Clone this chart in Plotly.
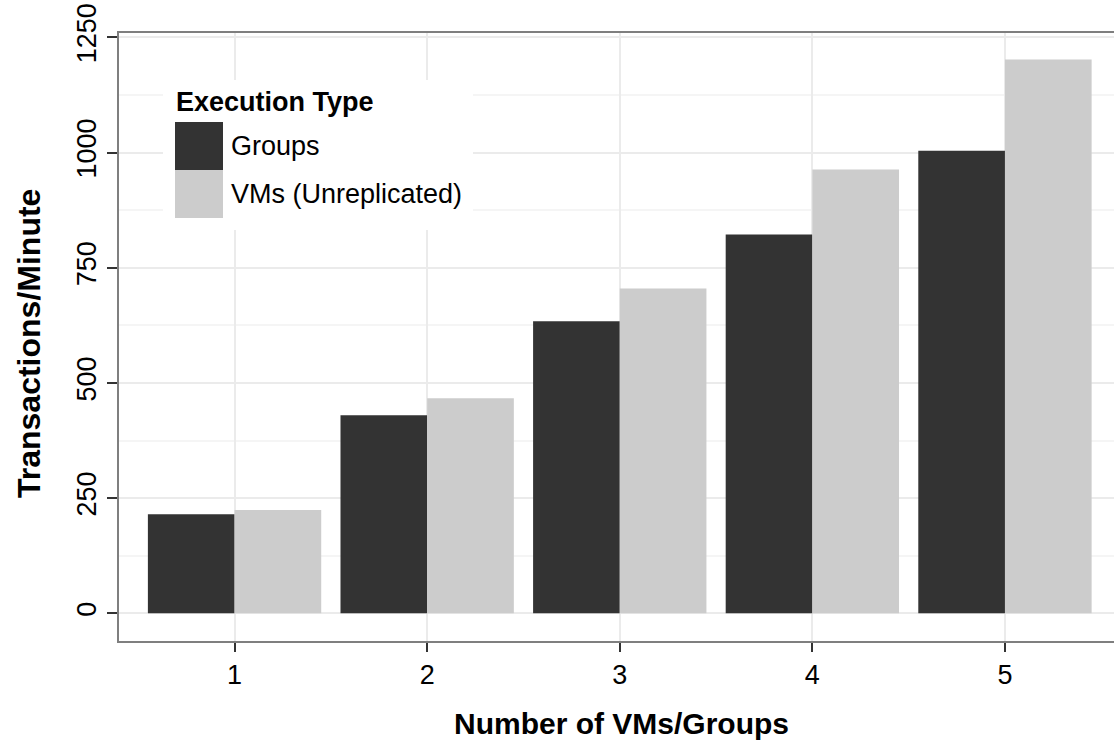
import plotly.graph_objects as go

# Throughput per configuration
vm_counts = [1, 2, 3, 4, 5]
groups_tpm = [215, 430, 634, 822, 1004]
vms_unreplicated_tpm = [224, 467, 705, 963, 1202]

series_names = ["Groups", "VMs (Unreplicated)"]
series_colors = ["#333333", "#cccccc"]
y_ticks = [0, 250, 500, 750, 1000, 1250]

W, H = 1114, 756
L, R, T, B = 119, 0, 33, 115
PW, PH = W - L - R, H - T - B
FONT = "Liberation Sans, Arial, sans-serif"


def px(x):
    return (x - L) / PW


def py(y):
    return (H - B - y) / PH


fig = go.Figure()
for name, vals, col in zip(series_names, [groups_tpm, vms_unreplicated_tpm], series_colors):
    fig.add_trace(go.Bar(x=vm_counts, y=vals, name=name,
                         marker=dict(color=col, line=dict(width=0)),
                         showlegend=False))

# legend panel drawn inside the plot area
shapes = [dict(type="rect", xref="paper", yref="paper", layer="above",
               x0=px(163), x1=px(473), y0=py(230), y1=py(80),
               fillcolor="white", line=dict(width=0))]
annotations = [dict(text="<b>Execution Type</b>", xref="paper", yref="paper",
                    x=px(174), y=py(102), xanchor="left", yanchor="middle",
                    showarrow=False, font=dict(size=27, color="black", family=FONT))]
for i, (name, col) in enumerate(zip(series_names, series_colors)):
    top = 122 + 48 * i
    shapes.append(dict(type="rect", xref="paper", yref="paper", layer="above",
                       x0=px(175), x1=px(223), y0=py(top + 48), y1=py(top),
                       fillcolor=col, line=dict(width=0)))
    annotations.append(dict(text=name, xref="paper", yref="paper",
                            x=px(229), y=py(top + 24), xanchor="left", yanchor="middle",
                            showarrow=False, font=dict(size=27, color="black", family=FONT)))

annotations.append(dict(text="<b>Number of VMs/Groups</b>", xref="paper", yref="paper",
                        x=px(621), y=py(723), xanchor="center", yanchor="middle",
                        showarrow=False, font=dict(size=30, color="black", family=FONT)))
annotations.append(dict(text="<b>Transactions/Minute</b>", xref="paper", yref="paper",
                        x=px(29), y=py(344), xanchor="center", yanchor="middle",
                        textangle=-90, showarrow=False,
                        font=dict(size=32, color="black", family=FONT)))

fig.update_layout(
    width=W, height=H,
    margin=dict(l=L, r=R, t=T, b=B),
    paper_bgcolor="white", plot_bgcolor="white",
    barmode="group", bargap=0.1, bargroupgap=0,
    font=dict(family=FONT, color="black"),
    shapes=shapes, annotations=annotations,
)
fig.update_xaxes(
    range=[0.4, 0.4 + PW / 192.6],
    tickvals=vm_counts, ticktext=[str(v) for v in vm_counts],
    ticks="outside", ticklen=9, tickwidth=2, tickcolor="#333333",
    tickfont=dict(size=27, color="black"),
    showline=True, linecolor="#7f7f7f", linewidth=2, mirror=True,
    showgrid=True, gridcolor="#ebebeb", gridwidth=1.5,
    zeroline=False,
)
fig.update_yaxes(
    range=[-60.1, 1259.5],
    tickvals=y_ticks, ticktext=[str(v) for v in y_ticks],
    tickangle=-90,
    ticks="outside", ticklen=10, tickwidth=2, tickcolor="#333333",
    tickfont=dict(size=27, color="black"),
    showline=True, linecolor="#7f7f7f", linewidth=2,
    showgrid=True, gridcolor="#ebebeb", gridwidth=1.5,
    minor=dict(dtick=125, tick0=0, showgrid=True, gridcolor="#f5f5f5", gridwidth=1.5),
    zeroline=False,
)

fig.write_html("out.html")
